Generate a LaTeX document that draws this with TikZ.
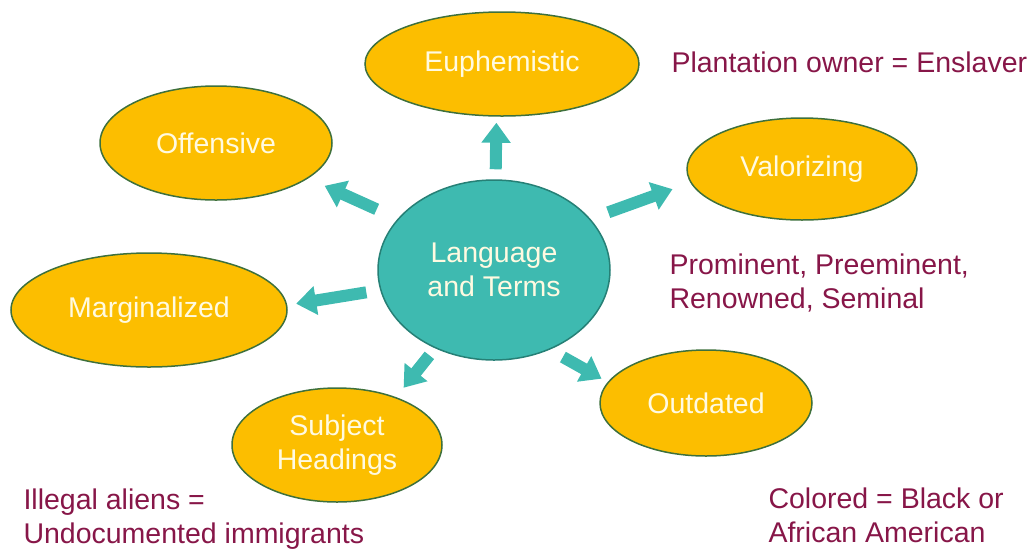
\documentclass[tikz,border=0pt]{standalone}
\usepackage{fontspec}
\setmainfont{Liberation Sans}
\usetikzlibrary{arrows.meta}
\usetikzlibrary{shapes.geometric}

\definecolor{gold}{RGB}{252,190,0}
\definecolor{rimgreen}{RGB}{62,112,60}
\definecolor{teal}{RGB}{62,186,176}
\definecolor{tealdark}{RGB}{38,128,118}
\definecolor{cream}{RGB}{255,250,225}
\definecolor{maroon}{RGB}{135,22,72}

\begin{document}
\begin{tikzpicture}[x=1pt,y=-1pt,
    every node/.style={font=\fontsize{28.5}{34}\selectfont},
    term/.style={ellipse, draw=rimgreen, line width=1.5pt, fill=gold,
        text=cream, inner sep=0pt, align=center},
    hub/.style={ellipse, draw=tealdark, line width=1.5pt, fill=teal,
        text=cream, inner sep=0pt, align=center},
    push/.style={-{Triangle[width=28pt,length=20pt]}, line width=12pt, draw=teal},
    note/.style={anchor=base west, align=left, text=maroon}]
    \useasboundingbox (0,0) rectangle (1031,550);

    \node (lang) at (494,270) [hub, minimum width=232pt, minimum height=180pt] {Language\\and Terms};
    \node (euph) at (502,64) [term, minimum width=274pt, minimum height=104pt] {Euphemistic};
    \node (off) at (216,143) [term, minimum width=232pt, minimum height=114pt] {Offensive};
    \node (val) at (802,169) [term, minimum width=230pt, minimum height=102pt] {Valorizing};
    \node (marg) at (149,310) [term, minimum width=276pt, minimum height=114pt] {Marginalized};
    \node (subj) at (337,445) [term, minimum width=210pt, minimum height=114pt] {Subject\\Headings};
    \node (out) at (706,403) [term, minimum width=212pt, minimum height=106pt] {Outdated};

    \draw [push, shorten <=10pt, shorten >=6pt] (lang.89) -- (euph.-96.6);
    \draw [push, shorten <=23pt, shorten >=18pt] (lang.152) -- (off.-21.5);
    \draw [push, shorten <=19pt, shorten >=19pt] (lang.28.4) -- (val.187.5);
    \draw [push, shorten <=14pt, shorten >=9pt] (lang.190) -- (marg.2.4);
    \draw [push, shorten <=9pt, shorten >=12pt] (lang.233.3) -- (subj.39.9);
    \draw [push, shorten <=15pt, shorten >=7pt] (lang.-55.4) -- (out.168.6);

    % base west of a two-line note sits on its last line
    \node (enslaver) at (668,72) [note] {Plantation owner = Enslaver};
    \node (renowned) at (666,308) [note] {Prominent, Preeminent,\\Renowned, Seminal};
    \node (aliens) at (20,543) [note] {Illegal aliens =\\Undocumented immigrants};
    \node (colored) at (765,542) [note] {Colored = Black or\\African American};
\end{tikzpicture}
\end{document}
